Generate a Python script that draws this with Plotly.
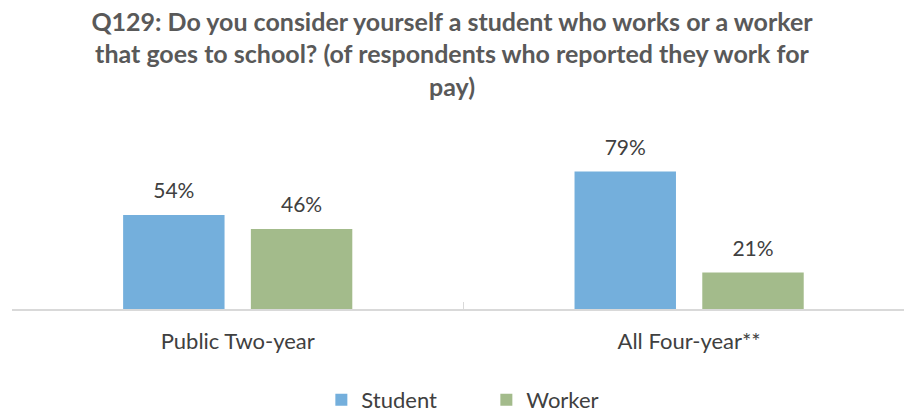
import plotly.graph_objects as go

categories = ["Public Two-year", "All Four-year**"]
student = [54, 79]
worker = [46, 21]
series_names = ["Student", "Worker"]
colors = ["#74AFDC", "#A3BB8B"]
title_lines = [
    "Q129: Do you consider yourself a student who works or a worker",
    "that goes to school? (of respondents who reported they work for",
    "pay)",
]

FONT = "Lato"
TXT = "#404040"
BARGAP = 0.434

fig = go.Figure()
for name, vals, col in zip(series_names, [student, worker], colors):
    fig.add_trace(go.Bar(
        x=categories, y=vals, name=name, offsetgroup=name,
        marker=dict(color=col, line=dict(width=0)),
        hoverinfo="skip",
    ))
for name, vals in zip(series_names, [student, worker]):
    fig.add_trace(go.Scatter(
        x=categories, y=vals, offsetgroup=name, mode="markers+text",
        text=[f"{v}%" for v in vals], textposition="top center",
        textfont=dict(family=FONT, size=21, color=TXT),
        marker=dict(size=17, opacity=0), showlegend=False, hoverinfo="skip",
        cliponaxis=False,
    ))

fig.update_layout(
    width=904, height=412,
    margin=dict(l=12, r=0, t=135, b=103),
    paper_bgcolor="white", plot_bgcolor="white",
    barmode="group", bargap=BARGAP, bargroupgap=0.206,
    scattermode="group", scattergap=BARGAP,
    title=dict(
        text="<br>".join(title_lines),
        x=0.5, xref="container", xanchor="center",
        y=0.925, yref="container", yanchor="top",
        font=dict(family=FONT, size=25, color="#595959", weight="bold"),
    ),
    xaxis=dict(
        range=[-0.5, 1.476], showgrid=False, zeroline=False,
        showline=True, linecolor="#D9D9D9", linewidth=1.5,
        ticks="inside", tickson="boundaries", ticklen=7, tickcolor="#D9D9D9",
        tickfont=dict(family=FONT, size=22, color=TXT),
        ticklabelstandoff=12,
    ),
    yaxis=dict(range=[0, 100], visible=False),
    showlegend=True,
    legend=dict(
        orientation="h", xref="container", x=0.538, xanchor="center",
        yref="container", y=0.029, yanchor="middle",
        font=dict(family=FONT, size=22, color=TXT),
        entrywidth=120, entrywidthmode="pixels",
    ),
)

fig.write_html("out.html", config={"displayModeBar": False},
               post_script="document.body.style.margin='0';")
